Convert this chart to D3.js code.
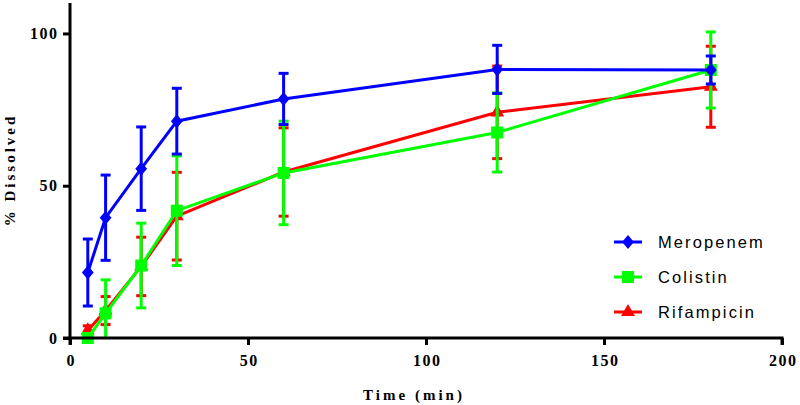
<!DOCTYPE html>
<html><head><meta charset="utf-8">
<script src="https://cdn.jsdelivr.net/npm/d3@7"></script>
<style>body{margin:0;background:#fff}svg{display:block}</style>
</head><body><svg id="c" width="800" height="405"></svg>
<script>
const times = [5, 10, 20, 30, 60, 120, 180];
const seriesNames = ["Meropenem", "Colistin", "Rifampicin"];
const meropenem = [21.5, 39.5, 55.6, 71.2, 78.5, 88.2, 88.0];
const meropenemSD = [11, 14, 13.7, 10.8, 8.4, 7.9, 4.6];
const colistin = [0, 8.1, 23.8, 41.8, 54.2, 67.5, 88.0];
const colistinSD = [1, 11, 13.9, 18, 17, 13, 12.5];
const rifampicin = [2.5, 9, 23.5, 40, 54.5, 74.1, 82.5];
const rifampicinSD = [1.5, 4.6, 9.6, 14.4, 14.5, 15.2, 13.3];
const xTicks = [0, 50, 100, 150, 200];
const yTicks = [0, 50, 100];

const svg = d3.select("#c");
const x = d3.scaleLinear().domain([0, 200]).range([70, 782]);
const y = d3.scaleLinear().domain([0, 110]).range([338, 3]);

const series = [
  {name: seriesNames[2], vals: rifampicin, sd: rifampicinSD, color: "#ff0000", sym: d3.symbolTriangle, size: 85},
  {name: seriesNames[1], vals: colistin, sd: colistinSD, color: "#00ff00", sym: d3.symbolSquare, size: 144},
  {name: seriesNames[0], vals: meropenem, sd: meropenemSD, color: "#0000ff", sym: d3.symbolDiamond, size: 57}
];
const symXf = s => s.sym === d3.symbolDiamond ? " scale(1.45,1)" : "";

svg.append("clipPath").attr("id", "clip").append("rect")
  .attr("x", 60).attr("y", 0).attr("width", 740).attr("height", 338);

const plot = svg.append("g");
series.forEach(s => {
  const g = plot.append("g");
  const eb = g.append("g").attr("clip-path", "url(#clip)")
    .attr("stroke", s.color).attr("stroke-width", 3);
  times.forEach((t, i) => {
    const hi = s.vals[i] + s.sd[i], lo = s.vals[i] - s.sd[i];
    eb.append("line").attr("x1", x(t)).attr("x2", x(t)).attr("y1", y(hi)).attr("y2", y(lo));
    eb.append("line").attr("x1", x(t) - 5).attr("x2", x(t) + 5).attr("y1", y(hi)).attr("y2", y(hi));
    eb.append("line").attr("x1", x(t) - 5).attr("x2", x(t) + 5).attr("y1", y(lo)).attr("y2", y(lo));
  });
  g.append("path").datum(times.map((t, i) => [t, s.vals[i]]))
    .attr("fill", "none").attr("stroke", s.color).attr("stroke-width", 3)
    .attr("d", d3.line().x(d => x(d[0])).y(d => y(d[1])));
  g.selectAll("path.m").data(times.map((t, i) => [t, s.vals[i]])).join("path")
    .attr("class", "m")
    .attr("transform", d => `translate(${x(d[0])},${y(d[1])})` + symXf(s))
    .attr("d", d3.symbol(s.sym, s.size)).attr("fill", s.color);
});

// axes
const xAxis = svg.append("g").attr("transform", "translate(0,338)")
  .call(d3.axisBottom(x).tickValues(xTicks).tickSize(7).tickPadding(10));
const yAxis = svg.append("g").attr("transform", "translate(70,0)")
  .call(d3.axisLeft(y).tickValues(yTicks).tickSize(7).tickPadding(4.5));
[xAxis, yAxis].forEach(a => {
  a.select(".domain").attr("stroke", "#000").attr("stroke-width", 3);
  a.selectAll(".tick line").attr("stroke", "#000").attr("stroke-width", 3);
  a.selectAll("text").attr("font-family", "'Liberation Serif', 'Times New Roman', serif")
    .attr("font-weight", "bold").attr("font-size", 16).attr("fill", "#000")
    .style("letter-spacing", "1.5px");
});
xAxis.selectAll("text").attr("dx", "0.75px");
xAxis.select(".domain").attr("d", "M70,7V0H782V7");
yAxis.select(".domain").attr("d", "M-7,338H0V3");

svg.append("text").attr("x", 414).attr("y", 400).attr("text-anchor", "middle")
  .attr("font-family", "'Liberation Serif', serif").attr("font-weight", "bold").attr("font-size", 15)
  .style("letter-spacing", "3px").text("Time (min)");
svg.append("text").attr("transform", "translate(15,170) rotate(-90)").attr("text-anchor", "middle")
  .attr("font-family", "'Liberation Serif', serif").attr("font-weight", "bold").attr("font-size", 15)
  .style("letter-spacing", "3px").text("% Dissolved");

// legend
const legendOrder = [series[2], series[1], series[0]];
const lg = svg.append("g");
legendOrder.forEach((s, i) => {
  const ly = 242 + i * 35;
  lg.append("line").attr("x1", 614).attr("x2", 642).attr("y1", ly).attr("y2", ly)
    .attr("stroke", s.color).attr("stroke-width", 3);
  lg.append("path").attr("transform", `translate(628,${ly})` + symXf(s))
    .attr("d", d3.symbol(s.sym, s.size)).attr("fill", s.color);
  lg.append("text").attr("x", 658).attr("y", ly + 5.8)
    .attr("font-family", "'Liberation Sans', Arial, sans-serif").attr("font-size", 16.5)
    .style("letter-spacing", "2.1px").attr("fill", "#000").text(s.name);
});
</script></body></html>
